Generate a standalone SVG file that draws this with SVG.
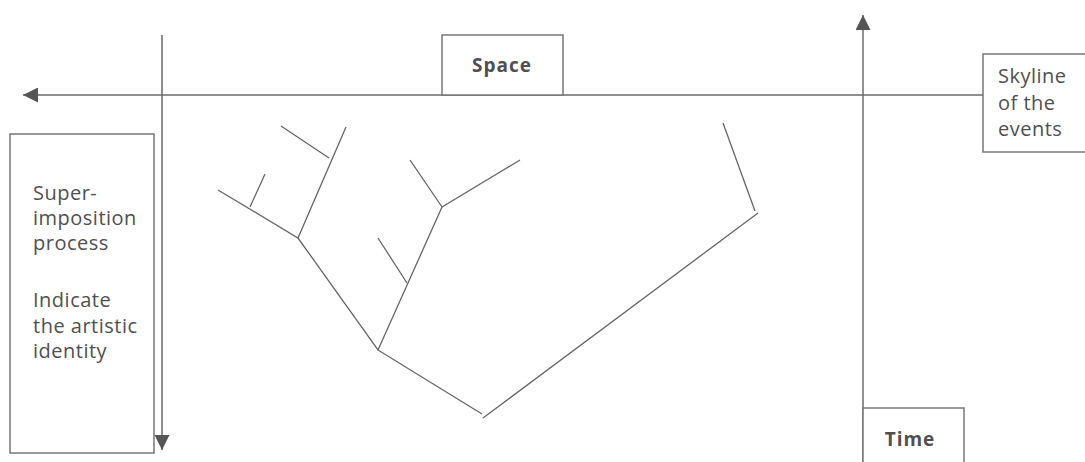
<svg xmlns="http://www.w3.org/2000/svg" width="1085" height="462" viewBox="0 0 1085 462">
<style>
.ln{stroke:#6a6a6a;stroke-width:1.5;fill:none}
.bx{stroke:#777;stroke-width:1.5;fill:#fff}
.t{font-family:"Open Sans","Noto Sans",sans-serif;font-size:20px;fill:#505050;letter-spacing:0.5px}
.b{font-family:"Open Sans","Noto Sans",sans-serif;font-size:19px;font-weight:bold;fill:#505050;letter-spacing:1px}
.tr{stroke:#666;stroke-width:1.3;fill:none}
</style>
<defs>
<marker id="ah" viewBox="0 0 10 10" refX="10" refY="5" markerWidth="17" markerHeight="15" markerUnits="userSpaceOnUse" orient="auto">
<path d="M0,0 L10,5 L0,10 Z" fill="#555"/>
</marker>
</defs>
<rect width="1085" height="462" fill="#fff"/>
<g id="connectors">
<line class="ln" x1="983" y1="95" x2="23" y2="95" marker-end="url(#ah)"/>
<line class="ln" x1="162" y1="35" x2="162" y2="450" marker-end="url(#ah)"/>
<line class="ln" x1="863" y1="462" x2="863" y2="15" marker-end="url(#ah)"/>
</g>
<g id="tree">
<polyline class="tr" points="218,190 298,238 346,127"/>
<line class="tr" x1="250" y1="207" x2="265" y2="174"/>
<line class="tr" x1="329" y1="158" x2="281" y2="126"/>
<polyline class="tr" points="298,238 378,350 442,207 410,160"/>
<line class="tr" x1="442" y1="207" x2="520" y2="160"/>
<line class="tr" x1="407" y1="283" x2="378" y2="238"/>
<line class="tr" x1="378" y1="350" x2="482" y2="414"/>
<line class="tr" x1="483" y1="418" x2="758" y2="213"/>
<line class="tr" x1="723" y1="123" x2="755" y2="211"/>
</g>
<g id="space">
<rect class="bx" x="442" y="35" width="121" height="60"/>
<text class="b" x="502" y="72" text-anchor="middle">Space</text>
</g>
<g id="skyline">
<rect class="bx" x="983" y="54" width="110" height="98"/>
<text class="t" x="998" y="83">Skyline</text>
<text class="t" x="998" y="110">of the</text>
<text class="t" x="998" y="136">events</text>
</g>
<g id="superimposition">
<rect class="bx" x="10" y="134" width="144" height="319"/>
<text class="t" x="33" y="200">Super-</text>
<text class="t" x="33" y="225">imposition</text>
<text class="t" x="33" y="250">process</text>
<text class="t" x="33" y="307">Indicate</text>
<text class="t" x="33" y="333">the artistic</text>
<text class="t" x="33" y="358">identity</text>
</g>
<g id="time">
<rect class="bx" x="863" y="408" width="101" height="60"/>
<text class="b" x="910" y="446" text-anchor="middle">Time</text>
</g>
</svg>
